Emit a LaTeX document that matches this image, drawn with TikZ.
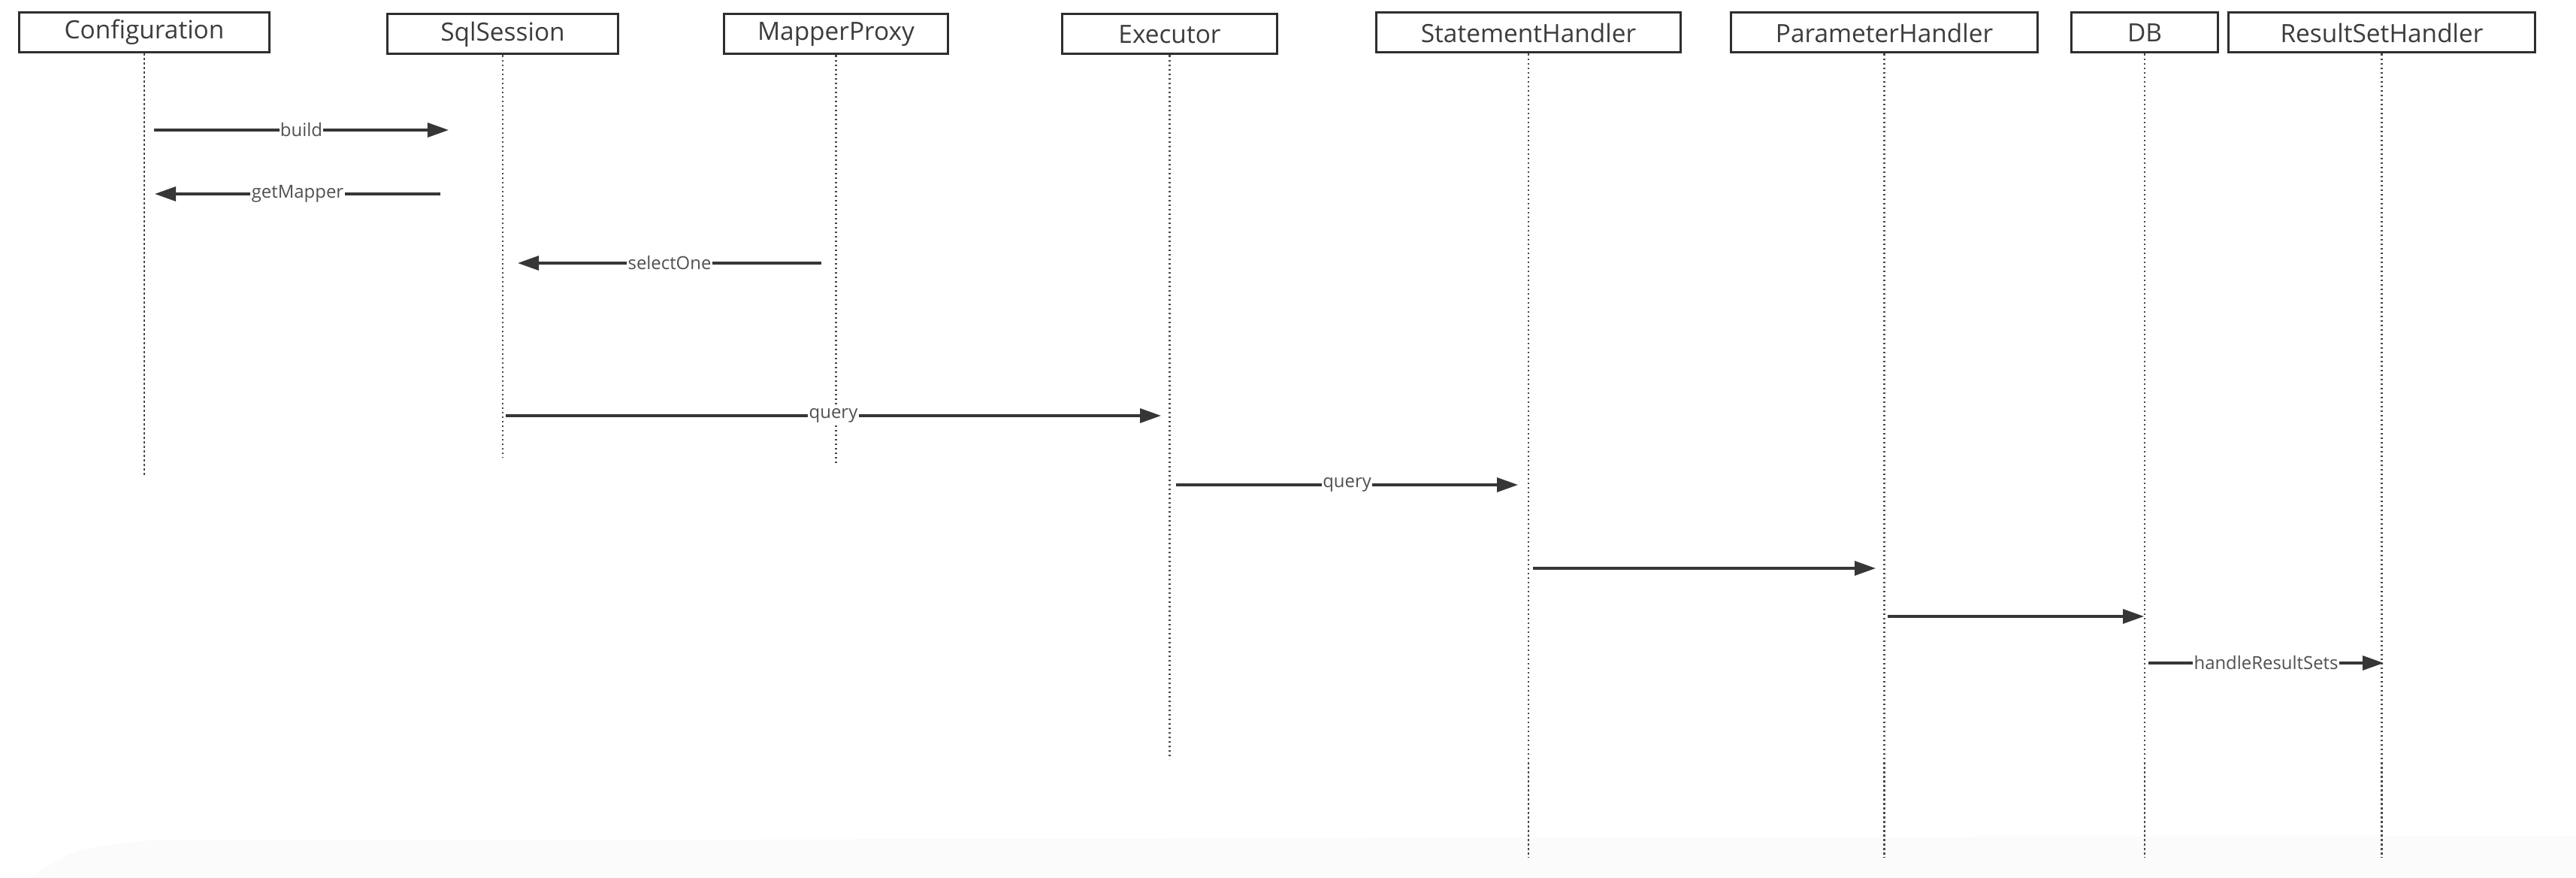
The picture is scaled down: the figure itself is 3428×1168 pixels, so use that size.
\documentclass[tikz,border=0pt]{standalone}
\usepackage{fontspec}
\setmainfont{Open Sans}
\usetikzlibrary{arrows.meta}
\definecolor{boxline}{HTML}{2E2E2E}
\definecolor{boxtext}{HTML}{3C3C3C}
\definecolor{msgline}{HTML}{363636}
\definecolor{msgtext}{HTML}{505050}
\definecolor{lifecol}{HTML}{4A4A4A}
\definecolor{bandcol}{HTML}{FBFBFB}
\tikzset{
  actor/.style={draw=boxline, line width=0.03cm, fill=white, inner sep=0pt,
    minimum height=0.53cm, text=boxtext, font=\fontsize{9.5}{11}\selectfont},
  lifeline/.style={draw=lifecol, line width=0.022cm, dash pattern=on 0.025cm off 0.035cm},
  msg/.style={draw=msgline, line width=0.032cm, -{Triangle[length=0.28cm, width=0.19cm]}},
  msglabel/.style={midway, fill=white, inner sep=0.4pt, text=msgtext,
    font=\fontsize{6.8}{8}\selectfont}
}
\begin{document}
\begin{tikzpicture}[x=0.01cm, y=-0.01cm]
\useasboundingbox (0,0) rectangle (3428,1168);
\fill[bandcol] (40,1168) .. controls (100,1128) .. (200,1118) -- (3428,1112) -- (3428,1168) -- cycle;

% actors
\node[actor, minimum width=3.32cm] (cfg) at (192,43) {Configuration};
\node[actor, minimum width=3.06cm] (ss)  at (669,45.5) {SqlSession};
\node[actor, minimum width=2.97cm] (mp)  at (1112.5,45.5) {MapperProxy};
\node[actor, minimum width=2.85cm] (ex)  at (1556.5,45.5) {Executor};
\node[actor, minimum width=4.04cm] (sh)  at (2034,43.5) {StatementHandler};
\node[actor, minimum width=4.07cm] (ph)  at (2507.5,43.5) {ParameterHandler};
\node[actor, minimum width=1.94cm] (db)  at (2854,43.5) {DB};
\node[actor, minimum width=4.07cm] (rs)  at (3169.5,43.5) {ResultSetHandler};

% lifeline ends
\coordinate (cfgE) at (192,634);
\coordinate (ssE)  at (669,608);
\coordinate (mpE)  at (1112.5,619);
\coordinate (exE)  at (1556.5,1010);
\coordinate (shE)  at (2034,1141);
\coordinate (phE)  at (2507.5,1141);
\coordinate (dbE)  at (2854,1141);
\coordinate (rsE)  at (3169.5,1141);

\draw[lifeline] (cfg.south) -- (cfgE);
\draw[lifeline] (ss.south) -- (ssE);
\draw[lifeline] (mp.south) -- (mpE);
\draw[lifeline] (ex.south) -- (exE);
\draw[lifeline] (sh.south) -- (shE);
\draw[lifeline] (ph.south) -- (phE);
\draw[lifeline] (db.south) -- (dbE);
\draw[lifeline] (rs.south) -- (rsE);

% message end points
\coordinate (m1a) at (205,173);  \coordinate (m1b) at (597,173);
\coordinate (m2a) at (586,258);  \coordinate (m2b) at (206,258);
\coordinate (m3a) at (1093,350); \coordinate (m3b) at (689,350);
\coordinate (m4a) at (673,553);  \coordinate (m4b) at (1545,553);
\coordinate (m5a) at (1565,645); \coordinate (m5b) at (2020,645);
\coordinate (m6a) at (2040,756); \coordinate (m6b) at (2496,756);
\coordinate (m7a) at (2512,820); \coordinate (m7b) at (2853,820);
\coordinate (m8a) at (2859,882); \coordinate (m8b) at (3172,882);

\draw[msg] (m1a) -- node[msglabel] {build} (m1b);
\draw[msg] (m2a) -- node[msglabel] {getMapper} (m2b);
\draw[msg] (m3a) -- node[msglabel] {selectOne} (m3b);
\draw[msg] (m4a) -- node[msglabel] {query} (m4b);
\draw[msg] (m5a) -- node[msglabel] {query} (m5b);
\draw[msg] (m6a) -- (m6b);
\draw[msg] (m7a) -- (m7b);
\draw[msg] (m8a) -- node[msglabel] {handleResultSets} (m8b);
\end{tikzpicture}
\end{document}
